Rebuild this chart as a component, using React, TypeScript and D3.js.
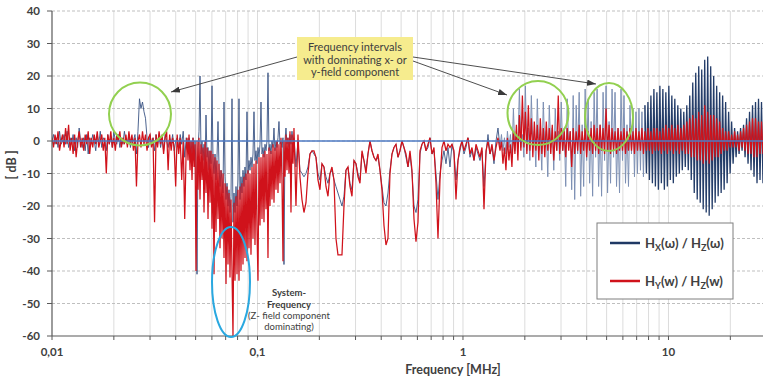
import React from 'react';
import * as d3 from 'd3';

// ---------- axes ----------
const yTickValues = [40, 30, 20, 10, 0, -10, -20, -30, -40, -50, -60];
const xTickValues = [0.01, 0.1, 1, 10];
const xTickLabels = ['0,01', '0,1', '1', '10'];
const xDomain = [0.01, 28.84];
const yDomain = [-60, 40];

// ---------- measured spectra, read off the figure (dB), per frequency band ----------
// band A: 0.01 .. 0.045 MHz
const rangeA = [0.01, 0.045];
const redA = [
  1, -2, 2, -1, 3, -3, 0, 2, -2, 4,
  -1, 5, -3, 1, -4, 2, -5, 0, 3, -2,
  1, -3, 2, -1, 3, -4, 1, -2, 2, -1,
  3, -2, 0, 2, -3, 1, -10, 2, -1, 3,
  -2, 1, -3, 2, 0, 3, -2, 1, -1, 2,
  -2, 3, -1, 2, -3, 1, -14, 0, 2, -2,
  3, -1, 2, -3, 1, 2, -2, 1, -25, 2,
  -2, 3, -1, 2, -4, 1, 3, -9, 2, -3,
  1, -2, -14, 2, -4, 1, -12, 0, -24, -2,
];
const blueA = [
  0, 2, -1, 1, -2, 3, -1, 0, 2, -1,
  3, -2, 1, -1, 2, -3, 1, -2, 4, 0,
  -2, 1, -3, 2, -4, 1, -1, 2, 0, -3,
  2, -1, 3, -2, 1, 0, -3, 2, -1, 1,
  -2, 3, 0, -1, 2, -2, 1, -1, 3, 0,
  -1, 2, -2, 1, 0, 2, -4, 3, 13, 10,
  12, 9, 7, 1, -2, 2, -1, 1, -3, 2,
  -1, 2, -2, 1, -3, 2, 0, -2, 1, -1,
  2, -3, 0, 1, -2, 2, -1, 3, -5, 1,
];

// band B: 0.045 .. 0.15 MHz (system frequency notch)
const rangeB = [0.0454, 0.1505];
const redB = [
  1, -6, 2, -9, 0, -12, 1, -8, -1, -40,
  0, -15, 1, -18, -1, -12, -2, -22, 0, -16,
  -2, -24, -3, -19, -3, -27, -4, -41, -5, -28,
  -6, -24, -7, -33, -9, -30, -10, -36, -13, -44,
  -14, -38, -16, -42, -18, -40, -60, -19, -43, -17,
  -41, -15, -43, -14, -40, -13, -38, -11, -36, -10,
  -37, -9, -33, -10, -35, -8, -30, -7, -32, -6,
  -27, -43, -5, -26, -5, -24, -4, -25, -3, -21,
  -4, -36, -2, -20, -3, -18, -1, -19, -2, -15,
  0, -16, -1, -13, 1, -12, -37, 0, -11, 2,
  -9, 1, -10, 3, -22, 2, -7, 4,
];
const blueB = [
  0, -3, 1, -5, 0, -4, 1, -6, 0, -8,
  -41, -2, 3, 20, -4, 0, -6, -1, -8, 8,
  -5, -2, -9, -3, -7, 17, -6, -10, -4, -12,
  -5, 6, -8, -14, -9, -12, -16, 12, -11, -18,
  -13, -20, -15, -22, -17, 13, -25, -16, -22, -14,
  -20, -12, 13, -18, -11, -16, -9, -14, -8, -12,
  9, -10, -6, -9, -5, -8, -4, 9, -6, -3,
  -7, -2, -5, -1, 12, -4, -2, -5, -1, -3,
  0, 21, -3, -1, -4, 0, -2, 4, -3, 0,
  -2, 1, 6, -1, 0, -2, 1, -38, 0, 4,
  -1, 1, -2, 2, -1, 3, 0, 1,
];

// band C: 0.15 .. 1.5 MHz
const rangeC = [0.1539, 1.514];
const redC = [
  -20, 2, -11, -18, -22, -19, -10, -4, -3, -3,
  -5, -12, -15, -7, -8, -14, -17, -10, -8, -12,
  -30, -35, -35, -35, -20, -9, -8, -14, -17, -6,
  -7, -11, -13, -3, -6, -10, -4, 0, -3, -5,
  -6, -4, -9, -15, -26, -32, -30, -10, -4, -2,
  -1, -5, -3, 0, -2, -4, -8, -3, -9, -24,
  -31, -25, -3, -1, 0, -3, -1, 1, -4, -2,
  -13, -30, -12, -2, 0, -3, -1, -2, -1, -3,
  -18, -6, -2, 0, -3, -1, 1, -4, -2, -6,
  -1, -3, -5, -2, -21, -3, 0, -4, -1, -6,
  -2, 1, -3,
];
const blueC = [
  -8, 0, -9, -10, -11, -10, -8, -4, -3, -4,
  -5, -10, -12, -7, -8, -11, -13, -10, -9, -12,
  -14, -16, -18, -20, -17, -9, -8, -13, -15, -6,
  -7, -10, -12, -4, -6, -9, -4, 0, -3, -5,
  -6, -5, -9, -14, -19, -20, -16, -9, -4, -2,
  -1, -5, -3, 0, -2, -5, -8, -4, -10, -20,
  -22, -18, -4, -1, 0, -3, -2, 1, -4, -3,
  -10, -18, -10, -6, -3, -7, -2, -8, -1, -4,
  -12, -6, -3, 0, -4, -2, 1, -5, -3, -6,
  -2, -4, -6, -3, -14, -4, 2, -4, -2, -7,
  0, 4, -2,
];

// band D: 1.5 .. 28.8 MHz
const rangeD = [1.539, 28.84];
const redD = [
  0, -7, -2, -9, 1, -6, -1, -8, 3, -4,
  5, -6, 8, -3, 14, -2, 9, -4, 11, -3,
  7, -5, 6, -3, 5, -6, 7, -4, 4, -5,
  6, -3, 4, -4, 5, -6, 3, -3, 14, -4,
  4, -3, 3, -5, 4, -3, 3, -8, 4, -4,
  3, -3, 5, -4, 3, -3, 4, -5, 3, -3,
  4, -4, 5, -3, 4, -4, 5, -3, 4, -4,
  10, -3, 5, -4, 4, -3, 3, -4, 4, -3,
  3, -3, 4, -4, 3, -3, 4, -3, 3, -4,
  4, -3, 3, -3, 4, -4, 3, -3, 4, -3,
  3, -4, 4, -3, 4, -3, 3, -4, 4, -3,
  5, -4, 4, -3, 5, -4, 4, -3, 5, -4,
  4, -3, 5, -4, 6, -4, 7, -5, 8, -5,
  7, -6, 9, -6, 8, -7, 11, -6, 9, -7,
  8, -6, 8, -5, 7, -5, 6, -4, 4, -3,
  3, -3, 3, -2, 2, -2, 3, -2, 2, -3,
  3, -2, 4, -3, 5, -4, 6, -4, 7, -5,
  7, -5, 6, -4, 6, -4,
];
const blueD = [
  2, -3, 1, -4, 3, -2, 2, -5, 10, -3,
  3, -2, 16, -2, 2, -5, 17, -3, 4, -6,
  14, -2, 3, -8, 13, -3, 2, -9, 12, -2,
  3, -11, 11, -2, 4, -9, 10, -3, 3, -6,
  12, -3, 4, -14, 13, -2, 3, -15, 14, -18,
  11, -4, 15, -17, 5, -14, 16, -6, 13, -13,
  6, -17, 15, -5, 16, -14, 5, -17, 15, -6,
  17, -16, 6, -13, 16, -5, 15, -14, 4, -16,
  16, -6, 14, -13, 5, -14, 11, -4, 10, -11,
  9, -10, 10, -9, 9, -11, 11, -10, 12, -12,
  14, -13, 16, -14, 15, -15, 17, -13, 16, -15,
  15, -14, 17, -12, 14, -13, 13, -11, 11, -10,
  10, -9, 9, -8, 11, -9, 14, -12, 18, -16,
  21, -18, 23, -19, 22, -21, 25, -22, 26, -23,
  23, -21, 20, -19, 17, -17, 15, -16, 14, -15,
  12, -13, 9, -10, 6, -7, 4, -5, 3, -4,
  4, -3, 5, -5, 7, -7, 9, -9, 11, -11,
  12, -13, 13, -12, 12, -13,
];

const lightBlueUntil = 7.7; // MHz, where the Hx trace renders lighter

type Pt = { f: number; v: number };
function sampled(range: number[], vals: number[]): Pt[] {
  const n = vals.length;
  return vals.map((v, i) => ({ f: range[0] * Math.pow(range[1] / range[0], i / (n - 1)), v }));
}

const FONT = "Lato, 'Open Sans', 'DejaVu Sans', sans-serif";
const TXT = '#404040';

export default function App() {
  const x = d3.scaleLog().domain(xDomain).range([52, 763]);
  const y = d3.scaleLinear().domain(yDomain).range([336, 11]);

  const red: Pt[] = [
    ...sampled(rangeA, redA),
    ...sampled(rangeB, redB),
    ...sampled(rangeC, redC),
    ...sampled(rangeD, redD),
  ];
  const blueMain: Pt[] = [
    ...sampled(rangeA, blueA),
    ...sampled(rangeB, blueB),
    ...sampled(rangeC, blueC),
  ];
  const blueHigh = sampled(rangeD, blueD);
  const blueLight = [blueMain[blueMain.length - 1], ...blueHigh.filter((d) => d.f <= lightBlueUntil)];
  const lastLight = blueLight[blueLight.length - 1];
  const blueDark = [lastLight, ...blueHigh.filter((d) => d.f > lightBlueUntil)];

  const line = d3
    .line<Pt>()
    .x((d) => x(d.f))
    .y((d) => y(d.v));

  const minorTicks: number[] = [];
  [0.01, 0.1, 1, 10].forEach((dec) => {
    for (let m = 1; m <= 9; m++) {
      const v = dec * m;
      if (v <= xDomain[1] * 1.0001) minorTicks.push(v);
    }
  });

  const x0 = x(xDomain[0]);
  const x1 = x(xDomain[1]);
  const yTop = y(yDomain[1]);
  const yBot = y(yDomain[0]);

  return (
    <svg
      width={763}
      height={377}
      style={{ position: 'absolute', left: 0, top: 0, display: 'block', background: '#fff' }}
      fontFamily={FONT}
    >
      <defs>
        <marker
          id="arrowHead"
          viewBox="0 0 10 7"
          refX="10"
          refY="3.5"
          markerWidth="9"
          markerHeight="6.3"
          markerUnits="userSpaceOnUse"
          orient="auto"
        >
          <path d="M0,0 L10,3.5 L0,7 z" fill="#3a3a3a" />
        </marker>
        <clipPath id="plotClip">
          <rect x={x0} y={yTop - 2} width={x1 - x0} height={yBot - yTop + 2} />
        </clipPath>
      </defs>

      {/* vertical grid */}
      {minorTicks
        .filter((v) => v > xDomain[0] * 1.0001)
        .map((v) => (
          <line key={'vg' + v} x1={x(v)} x2={x(v)} y1={yTop} y2={yBot} stroke="#dcdcdc" strokeWidth={1} />
        ))}
      {/* horizontal dashed grid */}
      {yTickValues
        .filter((v) => v !== yDomain[0])
        .map((v) => (
          <line
            key={'hg' + v}
            x1={x0}
            x2={x1}
            y1={y(v)}
            y2={y(v)}
            stroke="#bfbfbf"
            strokeWidth={1}
            strokeDasharray="3,2"
          />
        ))}

      {/* series */}
      <g clipPath="url(#plotClip)">
        <path d={line(blueMain) || ''} fill="none" stroke="#3a5383" strokeWidth={0.9} />
        <path d={line(blueLight) || ''} fill="none" stroke="#7d90b4" strokeWidth={1} />
        <path d={line(blueDark) || ''} fill="none" stroke="#243d69" strokeWidth={1.3} />
        <path d={line(red) || ''} fill="none" stroke="#d0121b" strokeWidth={1.25} />
        <line x1={x0} x2={x1} y1={y(0)} y2={y(0)} stroke="#4f7bc4" strokeWidth={1.6} />
      </g>

      {/* axes */}
      <line x1={x0} x2={x0} y1={yTop} y2={yBot} stroke="#595959" strokeWidth={1.2} />
      <line x1={x0} x2={x1} y1={yBot} y2={yBot} stroke="#595959" strokeWidth={1.2} />
      {yTickValues.map((v) => (
        <g key={'yt' + v}>
          <line x1={x0 - 5} x2={x0} y1={y(v)} y2={y(v)} stroke="#595959" />
          <text
            x={40}
            y={y(v)}
            dy="0.36em"
            textAnchor="end"
            fontSize={11.5}
            fontWeight="bold"
            fill={TXT}
          >
            {v}
          </text>
        </g>
      ))}
      {minorTicks.map((v) => (
        <line key={'xt' + v} x1={x(v)} x2={x(v)} y1={yBot} y2={yBot + 4} stroke="#595959" />
      ))}
      {xTickValues.map((v, i) => (
        <text
          key={'xl' + v}
          x={x(v)}
          y={356}
          textAnchor="middle"
          fontSize={11.5}
          fontWeight="bold"
          fill={TXT}
        >
          {xTickLabels[i]}
        </text>
      ))}
      <text x={453} y={374} textAnchor="middle" fontSize={12.5} fontWeight="bold" fill={TXT}>
        Frequency [MHz]
      </text>
      <text
        transform="translate(16,165) rotate(-90)"
        textAnchor="middle"
        fontSize={12.5}
        fontWeight="bold"
        fill={TXT}
      >
        [ dB ]
      </text>

      {/* annotations: circles */}
      <ellipse cx={140} cy={114} rx={31} ry={31.5} fill="none" stroke="#92d050" strokeWidth={2} />
      <ellipse cx={538} cy={113} rx={30.5} ry={32} fill="none" stroke="#92d050" strokeWidth={2} />
      <ellipse cx={609} cy={117} rx={24} ry={34} fill="none" stroke="#92d050" strokeWidth={2} />
      <ellipse cx={231} cy={282} rx={19} ry={55} fill="none" stroke="#29a8e0" strokeWidth={2} />

      {/* arrows */}
      <line x1={297} y1={57} x2={171} y2={92} stroke="#3a3a3a" strokeWidth={0.9} markerEnd="url(#arrowHead)" />
      <line x1={413} y1={61} x2={507} y2={95} stroke="#3a3a3a" strokeWidth={0.9} markerEnd="url(#arrowHead)" />
      <line x1={413} y1={57} x2={596} y2={84} stroke="#3a3a3a" strokeWidth={0.9} markerEnd="url(#arrowHead)" />

      {/* callout box */}
      <rect x={297} y={37} width={116} height={43} fill="#f6ec8e" />
      <text textAnchor="middle" fontSize={11} fill={TXT}>
        <tspan x={355} y={51}>Frequency intervals</tspan>
        <tspan x={355} y={63.5}>with dominating x- or</tspan>
        <tspan x={355} y={76}>y-field component</tspan>
      </text>

      {/* system frequency note */}
      <text textAnchor="middle" fontSize={9.5} fill={TXT}>
        <tspan x={289} y={296} fontWeight="bold">System-</tspan>
        <tspan x={289} y={308} fontWeight="bold">Frequency</tspan>
        <tspan x={289} y={319}>(Z- field component</tspan>
        <tspan x={289} y={330}>dominating)</tspan>
      </text>

      {/* legend */}
      <rect x={597} y={223} width={136} height={76} fill="#fff" stroke="#7f7f7f" strokeWidth={1} />
      <line x1={610} x2={640} y1={243} y2={243} stroke="#1f3864" strokeWidth={2.5} />
      <line x1={610} x2={640} y1={281} y2={281} stroke="#d0121b" strokeWidth={2.5} />
      <text x={645} y={247.5} fontSize={13} fontWeight="bold" fill={TXT}>
        H<tspan fontSize={9} dy={3}>X</tspan>
        <tspan dy={-3}>(ω) / H</tspan>
        <tspan fontSize={9} dy={3}>Z</tspan>
        <tspan dy={-3}>(ω)</tspan>
      </text>
      <text x={645} y={285.5} fontSize={13} fontWeight="bold" fill={TXT}>
        H<tspan fontSize={9} dy={3}>Y</tspan>
        <tspan dy={-3}>(w) / H</tspan>
        <tspan fontSize={9} dy={3}>Z</tspan>
        <tspan dy={-3}>(w)</tspan>
      </text>
    </svg>
  );
}
